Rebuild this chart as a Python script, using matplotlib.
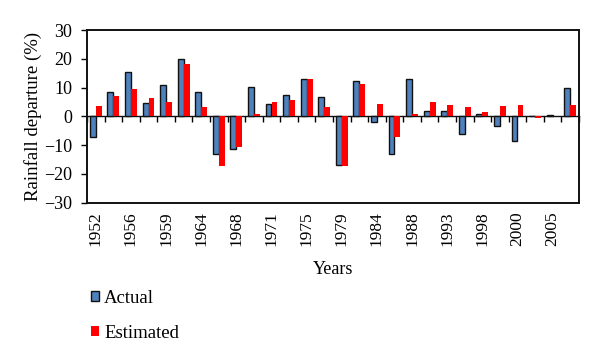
import numpy as np
import matplotlib
matplotlib.use('Agg')
import matplotlib.pyplot as plt

# Rainfall departure (%) per year
years = ['1952', '', '1956', '', '1959', '', '1964', '', '1968', '', '1971', '',
         '1975', '', '1979', '', '1984', '', '1988', '', '1993', '', '1998', '',
         '2000', '', '2005', '']
actual = [-7.0, 8.6, 15.5, 4.5, 10.9, 19.8, 8.5, -13.1, -11.5, 10.3, 4.3, 7.3,
          13.1, 6.8, -16.9, 12.3, -1.9, -12.9, 13.0, 1.9, 1.9, -6.0, 1.0, -3.5,
          -8.7, 0.1, 0.6, 9.7]
estimated = [3.7, 7.1, 9.6, 6.5, 5.1, 18.3, 3.2, -17.1, -10.8, 0.7, 5.0, 5.7,
             12.9, 3.1, -17.1, 11.2, 4.3, -7.1, 1.0, 5.0, 4.1, 3.1, 1.6, 3.6,
             3.9, -0.6, 0.3, 4.1]

plt.rcParams['font.family'] = ['Liberation Serif', 'DejaVu Serif']

fig = plt.figure(figsize=(6.0, 3.62), dpi=100)
ax = fig.add_axes([0.145, 0.44, 0.82, 0.477])

x = np.arange(len(years))
w = 0.34
ax.bar(x - w / 2, actual, w, color='#4F81BD', edgecolor='#111111', linewidth=1.0,
       label='Actual', zorder=3)
ax.bar(x + w / 2, estimated, w, color='#FF0000', edgecolor='none',
       label='Estimated', zorder=3)

ax.set_xlim(-0.5, len(years) - 0.5)
ax.set_ylim(-30, 30)
ax.set_yticks(np.arange(-30, 31, 10))
ax.set_xticks(x)
ax.set_xticklabels(years, rotation=90)
ax.tick_params(axis='x', length=0, pad=6, labelsize=12.5)
ax.tick_params(axis='y', direction='out', length=4.5, width=1, pad=6,
               labelsize=13)
for s in ax.spines.values():
    s.set_linewidth(1.4)
    s.set_color('#111111')

# horizontal axis line at zero with tick marks between categories
sec = ax.secondary_xaxis(0.5)
sec.set_xticks(np.arange(len(years) + 1) - 0.5)
sec.tick_params(axis='x', direction='in', length=4, width=1,
                labelbottom=False, labeltop=False)
for s in sec.spines.values():
    s.set_linewidth(1.0)
    s.set_color('#111111')

ax.set_ylabel('Rainfall departure (%)', fontsize=13.5, labelpad=2)
ax.set_xlabel('Years', fontsize=13, labelpad=11)

fig.legend(loc='upper left', bbox_to_anchor=(0.139, 0.22), frameon=False,
           fontsize=13.5, handlelength=0.45, handleheight=0.45,
           handletextpad=0.25, labelspacing=0.95, borderaxespad=0)

fig.savefig('out.png', dpi=100)
